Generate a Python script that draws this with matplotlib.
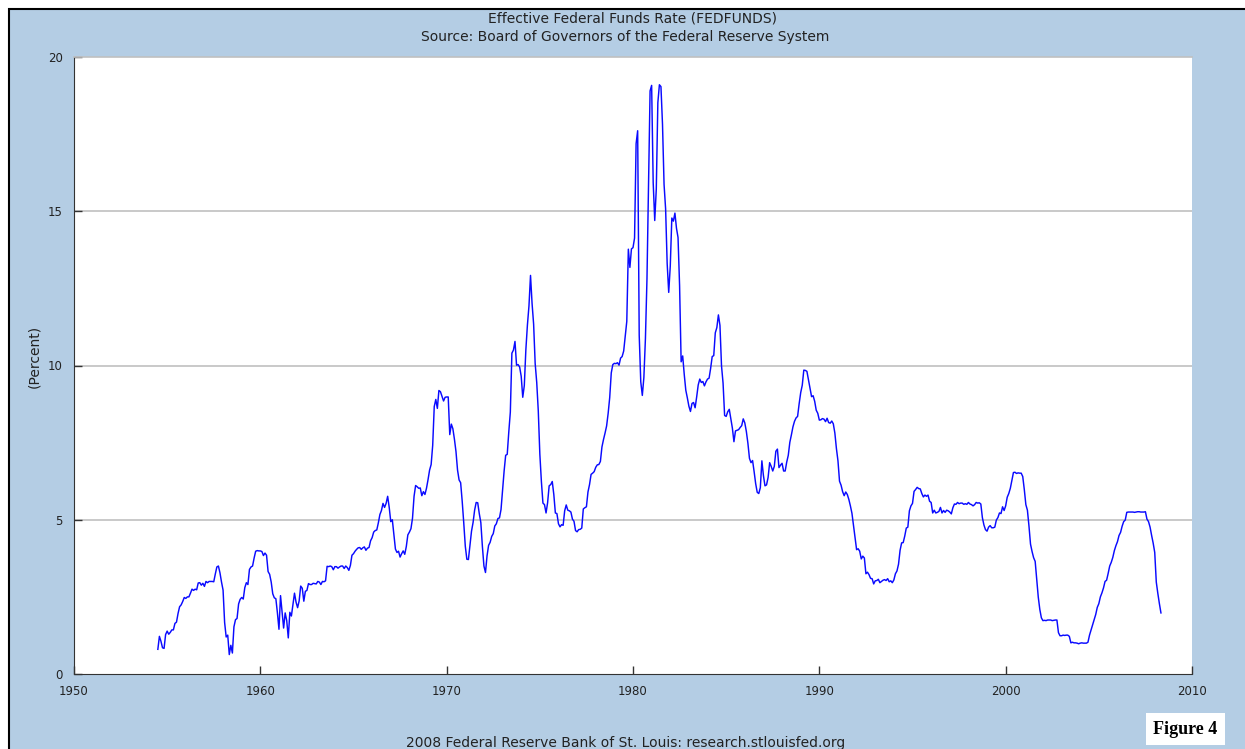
import numpy as np
import matplotlib
matplotlib.use("Agg")
import matplotlib.pyplot as plt
from matplotlib.patches import Rectangle

# monthly effective fed funds rate, percent, starting July 1954
rates_1950s = [0.80, 1.22, 1.06, 0.85, 0.83, 1.28,
               1.39, 1.29, 1.35, 1.43, 1.43, 1.64, 1.68, 1.96, 2.18, 2.24, 2.35, 2.48,
               2.45, 2.50, 2.50, 2.62, 2.75, 2.71, 2.75, 2.73, 2.95, 2.96, 2.88, 2.94,
               2.84, 3.00, 2.96, 3.00, 3.00, 3.00, 2.99, 3.24, 3.47, 3.50, 3.28, 2.98,
               2.72, 1.67, 1.20, 1.26, 0.63, 0.93, 0.68, 1.53, 1.76, 1.80, 2.27, 2.42,
               2.48, 2.43, 2.80, 2.96, 2.90, 3.39, 3.47, 3.50, 3.76, 3.98, 4.00, 3.99]
rates_1960s = [3.99, 3.97, 3.84, 3.92, 3.85, 3.32, 3.23, 2.98, 2.60, 2.47, 2.44, 1.98,
               1.45, 2.54, 2.02, 1.49, 1.98, 1.73, 1.17, 2.00, 1.88, 2.26, 2.62, 2.33,
               2.15, 2.37, 2.85, 2.78, 2.36, 2.68, 2.71, 2.93, 2.90, 2.90, 2.94, 2.93,
               2.92, 3.00, 2.98, 2.90, 3.00, 2.99, 3.02, 3.49, 3.48, 3.50, 3.48, 3.38,
               3.48, 3.48, 3.43, 3.47, 3.50, 3.50, 3.42, 3.50, 3.45, 3.36, 3.52, 3.85,
               3.90, 3.98, 4.04, 4.09, 4.10, 4.04, 4.09, 4.12, 4.01, 4.08, 4.10, 4.32,
               4.42, 4.60, 4.65, 4.67, 4.90, 5.17, 5.30, 5.53, 5.40, 5.53, 5.76, 5.40,
               4.94, 5.00, 4.53, 4.05, 3.94, 3.98, 3.79, 3.90, 3.99, 3.88, 4.13, 4.51,
               4.60, 4.71, 5.05, 5.76, 6.11, 6.07, 6.02, 6.03, 5.78, 5.91, 5.82, 6.02,
               6.30, 6.61, 6.79, 7.41, 8.67, 8.90, 8.61, 9.19, 9.15, 9.00, 8.85, 8.97]
rates_1970s = [8.98, 8.98, 7.76, 8.10, 7.95, 7.61, 7.21, 6.61, 6.29, 6.20, 5.60, 4.90,
               4.14, 3.72, 3.71, 4.16, 4.63, 4.91, 5.31, 5.56, 5.55, 5.20, 4.91, 4.14,
               3.50, 3.29, 3.83, 4.17, 4.27, 4.46, 4.55, 4.80, 4.87, 5.04, 5.06, 5.33,
               5.94, 6.58, 7.09, 7.12, 7.84, 8.49, 10.40, 10.50, 10.78, 10.01, 10.03, 9.95,
               9.65, 8.97, 9.35, 10.51, 11.31, 11.93, 12.92, 12.01, 11.34, 10.06, 9.45, 8.53,
               7.13, 6.24, 5.54, 5.49, 5.22, 5.55, 6.10, 6.14, 6.24, 5.82, 5.22, 5.20,
               4.87, 4.77, 4.84, 4.82, 5.29, 5.48, 5.31, 5.29, 5.25, 5.02, 4.95, 4.65,
               4.61, 4.68, 4.69, 4.73, 5.35, 5.39, 5.42, 5.90, 6.14, 6.47, 6.51, 6.56,
               6.70, 6.78, 6.79, 6.89, 7.36, 7.60, 7.81, 8.04, 8.45, 8.96, 9.76, 10.03,
               10.07, 10.06, 10.09, 10.01, 10.24, 10.29, 10.47, 10.94, 11.43, 13.77, 13.18, 13.78]
rates_1980s = [13.82, 14.13, 17.19, 17.61, 10.98, 9.47, 9.03, 9.61, 10.87, 12.81, 15.85, 18.90,
               19.08, 15.93, 14.70, 15.72, 18.52, 19.10, 19.04, 17.82, 15.87, 15.08, 13.31, 12.37,
               13.22, 14.78, 14.68, 14.94, 14.45, 14.15, 12.59, 10.12, 10.31, 9.71, 9.20, 8.95,
               8.68, 8.51, 8.77, 8.80, 8.63, 8.98, 9.37, 9.56, 9.45, 9.48, 9.34, 9.47,
               9.56, 9.59, 9.91, 10.29, 10.32, 11.06, 11.23, 11.64, 11.30, 9.99, 9.43, 8.38,
               8.35, 8.50, 8.58, 8.27, 7.97, 7.53, 7.88, 7.90, 7.92, 7.99, 8.05, 8.27,
               8.14, 7.86, 7.48, 6.99, 6.85, 6.92, 6.56, 6.17, 5.89, 5.85, 6.04, 6.91,
               6.43, 6.10, 6.13, 6.37, 6.85, 6.73, 6.58, 6.73, 7.22, 7.29, 6.69, 6.77,
               6.83, 6.58, 6.58, 6.87, 7.09, 7.51, 7.75, 8.01, 8.19, 8.30, 8.35, 8.76,
               9.12, 9.36, 9.85, 9.84, 9.81, 9.53, 9.24, 8.99, 9.02, 8.84, 8.55, 8.45]
rates_1990s = [8.23, 8.24, 8.28, 8.26, 8.18, 8.29, 8.15, 8.13, 8.20, 8.11, 7.81, 7.31,
               6.91, 6.25, 6.12, 5.91, 5.78, 5.90, 5.82, 5.66, 5.45, 5.21, 4.81, 4.43,
               4.03, 4.06, 3.98, 3.73, 3.82, 3.76, 3.25, 3.30, 3.22, 3.10, 3.09, 2.92,
               3.02, 3.03, 3.07, 2.96, 3.00, 3.04, 3.06, 3.03, 3.09, 2.99, 3.02, 2.96,
               3.05, 3.25, 3.34, 3.56, 4.01, 4.25, 4.26, 4.47, 4.73, 4.76, 5.29, 5.45,
               5.53, 5.92, 5.98, 6.05, 6.01, 6.00, 5.85, 5.74, 5.80, 5.76, 5.80, 5.60,
               5.56, 5.22, 5.31, 5.22, 5.24, 5.27, 5.40, 5.22, 5.30, 5.24, 5.31, 5.29,
               5.25, 5.19, 5.39, 5.51, 5.50, 5.56, 5.52, 5.54, 5.54, 5.50, 5.52, 5.50,
               5.56, 5.51, 5.49, 5.45, 5.49, 5.56, 5.54, 5.55, 5.51, 5.07, 4.83, 4.68,
               4.63, 4.76, 4.81, 4.74, 4.74, 4.76, 4.99, 5.07, 5.22, 5.20, 5.42, 5.30]
rates_2000s = [5.45, 5.73, 5.85, 6.02, 6.27, 6.53, 6.54, 6.50, 6.52, 6.51, 6.51, 6.40,
               5.98, 5.49, 5.31, 4.80, 4.21, 3.97, 3.77, 3.65, 3.07, 2.49, 2.09, 1.82,
               1.73, 1.74, 1.73, 1.75, 1.75, 1.75, 1.73, 1.74, 1.75, 1.75, 1.34, 1.24,
               1.24, 1.26, 1.25, 1.26, 1.26, 1.22, 1.01, 1.03, 1.01, 1.01, 1.00, 0.98,
               1.00, 1.01, 1.00, 1.00, 1.00, 1.03, 1.26, 1.43, 1.61, 1.76, 1.93, 2.16,
               2.28, 2.50, 2.63, 2.79, 3.00, 3.04, 3.26, 3.50, 3.62, 3.78, 4.00, 4.16,
               4.29, 4.49, 4.59, 4.79, 4.94, 4.99, 5.24, 5.25, 5.25, 5.25, 5.25, 5.24,
               5.25, 5.26, 5.26, 5.25, 5.25, 5.25, 5.26, 5.02, 4.94, 4.76, 4.49, 4.24,
               3.94, 2.98, 2.61, 2.28, 1.98]

x_ticks = [1950, 1960, 1970, 1980, 1990, 2000, 2010]
y_ticks = [0, 5, 10, 15, 20]

rates = np.array(rates_1950s + rates_1960s + rates_1970s + rates_1980s + rates_1990s + rates_2000s)
years = 1954.5 + np.arange(len(rates)) / 12.0

W, H = 1245, 749
fig = plt.figure(figsize=(W / 100, H / 100), dpi=100, facecolor="white")

# blue panel with black frame (cropped screenshot look)
fig.patches.append(Rectangle((9 / W, -0.05), 1.1, (H - 9) / H + 0.05, transform=fig.transFigure,
                             facecolor="#b4cde4", edgecolor="black", linewidth=1.5, zorder=-5))

ax = fig.add_axes([74 / W, 75 / H, (1192 - 74) / W, (674 - 57) / H])
ax.set_facecolor("white")
ax.plot(years, rates, color="#0a0aff", linewidth=1.05)

ax.set_xlim(1950, 2010)
ax.set_ylim(0, 20)
ax.set_xticks(x_ticks)
ax.set_yticks(y_ticks)
ax.tick_params(direction="in", length=6, width=1, color="#333333", labelsize=8.5,
               labelcolor="#222222", pad=8)
ax.tick_params(axis="y", pad=8)
for v in y_ticks[1:-1]:
    ax.axhline(v, color="#c0c0c0", linewidth=1.2, zorder=0)
ax.spines["top"].set_color("#c0c0c0")
ax.spines["top"].set_linewidth(1.2)
ax.spines["right"].set_visible(False)
ax.spines["left"].set_color("#333333")
ax.spines["bottom"].set_color("#333333")
ax.set_ylabel("(Percent)", fontsize=10, color="#222222")
ax.yaxis.set_label_coords(-0.029, 0.514)

fig.text(633 / W, 1 - 19 / H, "Effective Federal Funds Rate (FEDFUNDS)", ha="center", va="center",
         fontsize=10, color="#222222")
fig.text(625 / W, 1 - 37 / H, "Source: Board of Governors of the Federal Reserve System", ha="center",
         va="center", fontsize=10, color="#222222")
fig.text(626 / W, 1 - 743 / H, "2008 Federal Reserve Bank of St. Louis: research.stlouisfed.org",
         ha="center", va="center", fontsize=10, color="#222222")
fig.text(1185.5 / W, 1 - 729 / H, "Figure 4", ha="center", va="center", fontsize=13, fontweight="bold",
         family="Liberation Serif", color="black",
         bbox=dict(boxstyle="square,pad=0.4", facecolor="white", edgecolor="none"))

fig.savefig("out.png", dpi=100, facecolor=fig.get_facecolor())
